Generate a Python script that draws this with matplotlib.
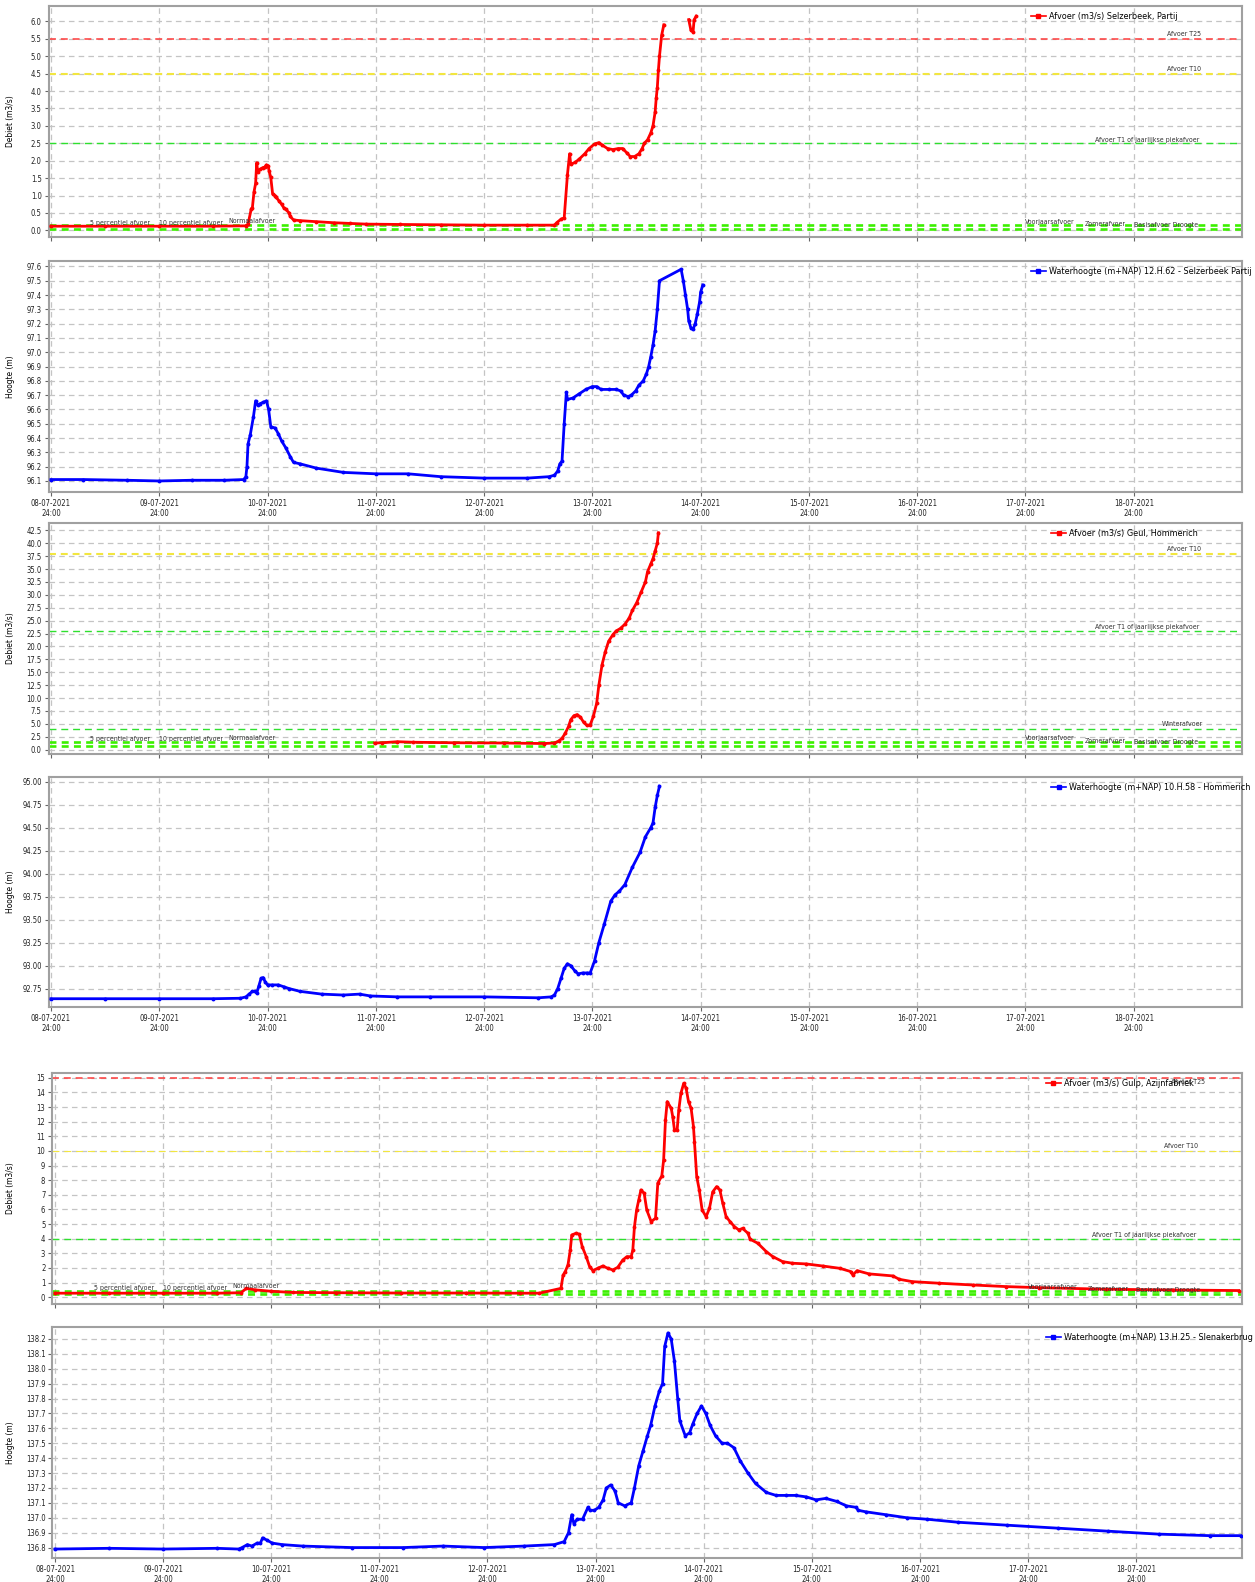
import matplotlib.pyplot as plt
from matplotlib.ticker import MultipleLocator, FormatStrFormatter
from matplotlib.lines import Line2D

plt.rcParams['font.family'] = ['DejaVu Sans']
plt.rcParams['font.stretch'] = 'condensed'
plt.rcParams['lines.scale_dashes'] = False

nan = float('nan')

# x-as: dagen na 08-07-2021 24:00
dagen = ['08-07-2021', '09-07-2021', '10-07-2021', '11-07-2021', '12-07-2021', '13-07-2021',
         '14-07-2021', '15-07-2021', '16-07-2021', '17-07-2021', '18-07-2021']
x_labels = [d + '\n24:00' for d in dagen]

# Selzerbeek, Partij - afvoer
sel_q_t = [0.0, 0.5, 1.0, 1.5, 1.80, 1.82, 1.85, 1.86, 1.875, 1.89, 1.90, 1.91, 1.93, 1.955, 1.975,
           1.99, 2.006, 2.015, 2.03, 2.047, 2.07, 2.08, 2.105, 2.13, 2.15, 2.17, 2.2, 2.21, 2.24, 2.3,
           2.45, 2.61, 2.76, 2.91, 3.22, 3.6, 4.0, 4.4, 4.65, 4.67, 4.71, 4.74, 4.77, 4.79, 4.80,
           4.84, 4.88, 4.93, 4.97, 5.02, 5.06, 5.09, 5.14, 5.19, 5.24, 5.28, 5.32, 5.35, 5.39, 5.43,
           5.46, 5.48, 5.51, 5.54, 5.56, 5.58, 5.59, 5.60, 5.61, 5.62, 5.64, 5.66, 5.77,
           5.89, 5.91, 5.93, 5.94, 5.96]
sel_q = [0.12, 0.12, 0.12, 0.12, 0.13, 0.18, 0.62, 0.65, 1.1, 1.35, 1.94, 1.67, 1.75, 1.8, 1.82,
         1.88, 1.85, 1.7, 1.52, 1.05, 1.0, 0.95, 0.85, 0.75, 0.65, 0.6, 0.5, 0.4, 0.3, 0.28,
         0.25, 0.22, 0.2, 0.18, 0.17, 0.16, 0.15, 0.15, 0.15, 0.22, 0.32, 0.36, 1.6, 2.2, 1.9,
         1.95, 2.05, 2.2, 2.35, 2.48, 2.52, 2.45, 2.35, 2.32, 2.35, 2.35, 2.22, 2.12, 2.12, 2.2,
         2.35, 2.5, 2.6, 2.8, 3.0, 3.4, 3.8, 4.1, 4.6, 5.0, 5.6, 5.9, nan,
         6.05, 5.75, 5.7, 6.05, 6.15]

# 12.H.62 - Selzerbeek Partij - waterhoogte
sel_h_t = [0.0, 0.3, 0.7, 1.0, 1.3, 1.6, 1.78, 1.80, 1.81, 1.82, 1.84, 1.87, 1.89, 1.91, 1.93, 1.96,
           1.99, 2.01, 2.03, 2.07, 2.1, 2.13, 2.17, 2.21, 2.24, 2.3, 2.45, 2.7, 3.0, 3.3, 3.6, 4.0,
           4.4, 4.6, 4.65, 4.68, 4.70, 4.72, 4.74, 4.76, 4.77, 4.82, 4.88, 4.94, 5.0, 5.04, 5.08,
           5.15, 5.22, 5.26, 5.29, 5.33, 5.36, 5.4, 5.43, 5.47, 5.5, 5.52, 5.54, 5.56, 5.58, 5.6,
           5.62, 5.82, 5.84, 5.86, 5.88, 5.89, 5.91, 5.93, 5.95, 5.97, 5.99, 6.0, 6.02]
sel_h = [96.11, 96.11, 96.105, 96.10, 96.105, 96.105, 96.11, 96.13, 96.2, 96.36, 96.42, 96.55, 96.66,
         96.63, 96.64, 96.65, 96.66, 96.6, 96.48, 96.47, 96.43, 96.38, 96.33, 96.27, 96.23, 96.22,
         96.19, 96.16, 96.15, 96.15, 96.13, 96.12, 96.12, 96.13, 96.14, 96.17, 96.22, 96.24, 96.5,
         96.72, 96.67, 96.68, 96.71, 96.74, 96.76, 96.76, 96.74, 96.74, 96.74, 96.73, 96.70,
         96.69, 96.7, 96.73, 96.77, 96.8, 96.85, 96.9, 96.97, 97.05, 97.15, 97.3, 97.5, 97.58,
         97.5, 97.4, 97.3, 97.22, 97.17, 97.16, 97.2, 97.27, 97.35, 97.42, 97.47]

# Geul, Hommerich - afvoer
geul_q_t = [2.99, 3.06, 3.2, 3.34, 3.72, 4.18, 4.55, 4.65, 4.69, 4.72, 4.75, 4.78, 4.80, 4.83, 4.86,
            4.89, 4.92, 4.95, 4.98, 5.01, 5.04, 5.06, 5.09, 5.12, 5.15, 5.19, 5.22, 5.26, 5.30,
            5.34, 5.37, 5.41, 5.45, 5.49, 5.51, 5.54, 5.56, 5.58, 5.60, 5.61]
geul_q = [1.3, 1.35, 1.55, 1.45, 1.35, 1.3, 1.2, 1.3, 1.7, 2.2, 3.2, 4.5, 5.8, 6.6, 6.8,
          6.3, 5.3, 4.7, 4.8, 6.5, 9.0, 12.5, 16.5, 19.0, 21.0, 22.3, 23.0, 23.5, 24.3,
          25.5, 27.0, 28.5, 30.5, 32.5, 34.5, 36.0, 37.0, 38.5, 40.0, 42.0]

# 10.H.58 - Hommerich - waterhoogte
geul_h_t = [0.0, 0.5, 1.0, 1.5, 1.75, 1.8, 1.83, 1.86, 1.88, 1.9, 1.92, 1.94, 1.96, 1.98, 2.0,
            2.04, 2.1, 2.15, 2.2, 2.3, 2.5, 2.7, 2.85, 2.95, 3.2, 3.5, 4.0, 4.5, 4.62, 4.65,
            4.68, 4.71, 4.74, 4.77, 4.80, 4.84, 4.87, 4.91, 4.95, 4.98, 5.02, 5.06, 5.11, 5.17,
            5.21, 5.25, 5.3, 5.37, 5.44, 5.49, 5.54, 5.56, 5.58, 5.6, 5.62]
geul_h = [92.64, 92.64, 92.64, 92.64, 92.645, 92.66, 92.69, 92.72, 92.72, 92.7, 92.78, 92.86, 92.87,
          92.82, 92.79, 92.79, 92.79, 92.77, 92.75, 92.72, 92.69, 92.68, 92.69, 92.67, 92.66,
          92.66, 92.66, 92.65, 92.66, 92.68, 92.75, 92.86, 92.97, 93.02, 93.0, 92.94, 92.91,
          92.92, 92.92, 92.92, 93.05, 93.25, 93.45, 93.7, 93.77, 93.81, 93.88, 94.07, 94.23,
          94.4, 94.5, 94.55, 94.72, 94.85, 94.95]

# Gulp, Azijnfabriek - afvoer
gulp_q_t = [0.0, 0.5, 1.0, 1.5, 1.72, 1.77, 1.85, 2.0, 2.2, 2.6, 3.2, 3.8, 4.3, 4.48, 4.68, 4.70,
            4.72, 4.745, 4.766, 4.78, 4.82, 4.85, 4.877, 4.914, 4.945, 4.975, 5.02, 5.067, 5.114,
            5.16, 5.206, 5.252, 5.29, 5.33, 5.345, 5.36, 5.38, 5.4, 5.42, 5.45, 5.474, 5.515,
            5.555, 5.576, 5.613, 5.63, 5.647, 5.663, 5.7, 5.714, 5.73, 5.755, 5.77, 5.79, 5.816,
            5.838, 5.86, 5.884, 5.906, 5.915, 5.936, 5.96, 5.986, 6.023, 6.054, 6.084, 6.12,
            6.15, 6.177, 6.208, 6.245, 6.285, 6.325, 6.36, 6.41, 6.43, 6.5, 6.58, 6.64, 6.73,
            6.82, 6.95, 7.1, 7.26, 7.36, 7.38, 7.42, 7.53, 7.75, 7.81, 7.93, 8.18, 8.49, 8.8,
            9.1, 9.72, 10.34, 10.95]
gulp_q = [0.27, 0.27, 0.27, 0.27, 0.3, 0.6, 0.5, 0.4, 0.32, 0.3, 0.28, 0.28, 0.27, 0.27, 0.6, 1.5,
          1.75, 2.2, 3.2, 4.25, 4.37, 4.3, 3.45, 2.77, 2.09, 1.82, 1.97, 2.13, 1.97,
          1.86, 2.04, 2.54, 2.77, 2.77, 3.23, 4.82, 5.96, 6.65, 7.33, 7.1, 5.96, 5.16,
          5.4, 7.79, 8.29, 9.38, 12.12, 13.37, 12.92, 12.35, 11.44, 11.44, 12.8, 13.95, 14.63,
          14.29, 13.37, 12.92, 11.66, 10.64, 8.24, 7.33, 5.96, 5.5, 6.08, 7.2, 7.56,
          7.33, 6.42, 5.5, 5.16, 4.82, 4.6, 4.7, 4.37, 3.96, 3.69, 3.11, 2.77, 2.43,
          2.32, 2.27, 2.13, 1.97, 1.75, 1.52, 1.81, 1.59, 1.45, 1.22, 1.06, 0.95, 0.83, 0.72,
          0.65, 0.54, 0.49, 0.45]

# 13.H.25 - Slenakerbrug - waterhoogte
gulp_h_t = [0.0, 0.5, 1.0, 1.5, 1.7, 1.73, 1.78, 1.82, 1.87, 1.90, 1.92, 1.96, 2.01, 2.1, 2.29, 2.75,
            3.22, 3.59, 3.97, 4.34, 4.62, 4.71, 4.75, 4.78, 4.80, 4.83, 4.88, 4.93, 4.95, 4.99,
            5.03, 5.07, 5.1, 5.14, 5.18, 5.21, 5.27, 5.33, 5.36, 5.4, 5.44, 5.48, 5.51, 5.55,
            5.59, 5.62, 5.64, 5.67, 5.70, 5.73, 5.76, 5.78, 5.83, 5.87, 5.90, 5.94, 5.98, 6.02,
            6.06, 6.11, 6.17, 6.22, 6.28, 6.34, 6.41, 6.48, 6.58, 6.67, 6.76, 6.85, 6.95, 7.04,
            7.13, 7.23, 7.32, 7.41, 7.43, 7.5, 7.69, 7.88, 8.07, 8.35, 8.81, 9.28, 9.74, 10.21,
            10.68, 10.97]
gulp_h = [136.79, 136.795, 136.79, 136.795, 136.79, 136.80, 136.82, 136.81, 136.83, 136.83, 136.865,
          136.85, 136.83, 136.82, 136.81, 136.80, 136.80, 136.81, 136.80, 136.81, 136.82, 136.84,
          136.9, 137.02, 136.96, 136.99, 136.99, 137.07, 137.05, 137.05, 137.07, 137.12, 137.2,
          137.22, 137.18, 137.1, 137.08, 137.1, 137.2, 137.35, 137.45, 137.55, 137.62, 137.75,
          137.85, 137.9, 138.15, 138.24, 138.2, 138.05, 137.8, 137.65, 137.55, 137.57, 137.63,
          137.7, 137.75, 137.7, 137.62, 137.55, 137.5, 137.5, 137.47, 137.38, 137.3, 137.23,
          137.17, 137.15, 137.15, 137.15, 137.14, 137.12, 137.13, 137.11, 137.08, 137.07, 137.05,
          137.04, 137.02, 137.0, 136.99, 136.97, 136.95, 136.93, 136.91, 136.89, 136.88, 136.88]

# normlijnen
sel_t25, sel_t10, sel_t1 = 5.5, 4.5, 2.5
sel_laag = [0.15, 0.03]
geul_t10, geul_t1, geul_winter = 38.0, 23.0, 4.0
geul_laag = [1.5, 0.75]
gulp_t25, gulp_t10, gulp_t1 = 15.0, 10.0, 4.0
gulp_laag = [0.45, 0.22]
laag_labels = ['5 percentiel afvoer', '10 percentiel afvoer', 'Normaalafvoer',
               'Voorjaarsafvoer', 'Zomerafvoer', 'Basisafvoer Droogte']

W, H = 1255, 1582
fig = plt.figure(figsize=(W / 100, H / 100), dpi=100)

grijs = '#c4c4c4'
rood_n = '#ff3b3b'
geel_n = '#f2e640'
groen_n = '#2ee02e'
groen_dik = '#3cf000'


def maak_as(l, t, r, b, xmin, xmax, ylim, stap, fmt, ylabel, xlabels):
    ax = fig.add_axes([l / W, 1 - b / H, (r - l) / W, (b - t) / H])
    ax.set_xlim(xmin, xmax)
    ax.set_ylim(*ylim)
    ax.set_xticks(range(len(dagen)))
    if xlabels:
        ax.set_xticklabels(x_labels, fontsize=5.5, color='#222222')
    else:
        ax.set_xticklabels([])
    ax.yaxis.set_major_locator(MultipleLocator(stap))
    ax.yaxis.set_major_formatter(FormatStrFormatter(fmt))
    ax.tick_params(axis='both', labelsize=5.5, colors='#222222', length=3, width=0.8,
                   color='#666666', pad=2)
    ax.grid(True, color=grijs, lw=0.9, ls=(0, (4, 3)))
    ax.set_axisbelow(True)
    for s in ax.spines.values():
        s.set_color('#a0a0a0')
        s.set_linewidth(1.5)
    ax.set_ylabel(ylabel, fontsize=6)
    ax.yaxis.set_label_coords(-(l - 15) / (r - l), 0.5)
    return ax


def norm(ax, y, kleur, lw, dash, label=None, lx=None, off=0.0):
    ax.axhline(y, color=kleur, lw=lw, ls=(0, dash), zorder=1.5)
    if label:
        ax.annotate(label, (lx, y), xytext=(0, off), textcoords='offset points',
                    fontsize=5, color='#333333', va='center', ha='left', zorder=4)


def lage_normen(ax, laag):
    for y in laag:
        norm(ax, y, groen_dik, 1.9, (5, 3.8))
    xs = [0.36, 1.0, 1.64, 9.0, 9.55, 10.0]
    offs = [1.8, 1.8, 3.0, 2.5, 1.0, 0.2]
    for lab, x, o in zip(laag_labels, xs, offs):
        ax.annotate(lab, (x, laag[0]), xytext=(0, o), textcoords='offset points',
                    fontsize=5, color='#333333', va='center', ha='left', zorder=4)


def reeks(ax, t, v, kleur, naam, lx):
    ax.plot(t, v, color=kleur, lw=2.0, marker='o', ms=2.8, mew=0, zorder=3)
    h = Line2D([], [], color=kleur, lw=1.2, marker='s', ms=2.5)
    ax.legend([h], [naam], loc='upper left', bbox_to_anchor=(lx, 1.0), frameon=False,
              fontsize=6.5, handlelength=1.6, handletextpad=0.4, borderaxespad=0.3)


# 1: Selzerbeek afvoer
ax1 = maak_as(48.7, 5.7, 1242, 237, -0.021, 11.0, (-0.19, 6.45), 0.5, '%.1f', 'Debiet (m3/s)', False)
norm(ax1, sel_t25, rood_n, 1.1, (5, 3.5), 'Afvoer T25', 10.31, 3.5)
norm(ax1, sel_t10, geel_n, 1.5, (5, 3.5), 'Afvoer T10', 10.31, 3.5)
norm(ax1, sel_t1, groen_n, 1.0, (5, 3.5), 'Afvoer T1 of jaarlijkse piekafvoer', 9.64, 2.5)
lage_normen(ax1, sel_laag)
reeks(ax1, sel_q_t, sel_q, '#ff0000', 'Afvoer (m3/s) Selzerbeek, Partij', 0.818)

# 2: Selzerbeek waterhoogte
ax2 = maak_as(48.7, 260.7, 1242, 491.7, -0.021, 11.0, (96.025, 97.64), 0.1, '%.1f', 'Hoogte (m)', True)
reeks(ax2, sel_h_t, sel_h, '#0000ff', 'Waterhoogte (m+NAP) 12.H.62 - Selzerbeek Partij', 0.818)

# 3: Geul afvoer
ax3 = maak_as(48.7, 522.7, 1242, 754, -0.021, 11.0, (-0.83, 43.97), 2.5, '%.1f', 'Debiet (m3/s)', False)
norm(ax3, geul_t10, geel_n, 1.5, (5, 3.5), 'Afvoer T10', 10.31, 3.5)
norm(ax3, geul_t1, groen_n, 1.0, (5, 3.5), 'Afvoer T1 of jaarlijkse piekafvoer', 9.64, 2.5)
norm(ax3, geul_winter, groen_n, 1.0, (5, 3.5), 'Winterafvoer', 10.26, 3.5)
lage_normen(ax3, geul_laag)
reeks(ax3, geul_q_t, geul_q, '#ff0000', 'Afvoer (m3/s) Geul, Hommerich', 0.835)

# 4: Geul waterhoogte
ax4 = maak_as(48.7, 777, 1242, 1007, -0.021, 11.0, (92.55, 95.05), 0.25, '%.2f', 'Hoogte (m)', True)
reeks(ax4, geul_h_t, geul_h, '#0000ff', 'Waterhoogte (m+NAP) 10.H.58 - Hommerich', 0.835)

# 5: Gulp afvoer
ax5 = maak_as(52.3, 1073, 1242, 1304, -0.025, 10.98, (-0.47, 15.33), 1, '%d', 'Debiet (m3/s)', False)
norm(ax5, gulp_t25, rood_n, 1.1, (5, 3.5), 'Afvoer T25', 10.32, -3.0)
norm(ax5, gulp_t10, geel_n, 0.8, (5, 3.5), 'Afvoer T10', 10.26, 3.5)
norm(ax5, gulp_t1, groen_n, 1.0, (5, 3.5), 'Afvoer T1 of jaarlijkse piekafvoer', 9.59, 2.5)
lage_normen(ax5, gulp_laag)
reeks(ax5, gulp_q_t, gulp_q, '#ff0000', 'Afvoer (m3/s) Gulp, Azijnfabriek', 0.83)

# 6: Gulp waterhoogte
ax6 = maak_as(52.3, 1327, 1242, 1558, -0.025, 10.98, (136.73, 138.28), 0.1, '%.1f', 'Hoogte (m)', True)
reeks(ax6, gulp_h_t, gulp_h, '#0000ff', 'Waterhoogte (m+NAP) 13.H.25 - Slenakerbrug', 0.83)

fig.savefig('out.png', dpi=100, facecolor='white')
